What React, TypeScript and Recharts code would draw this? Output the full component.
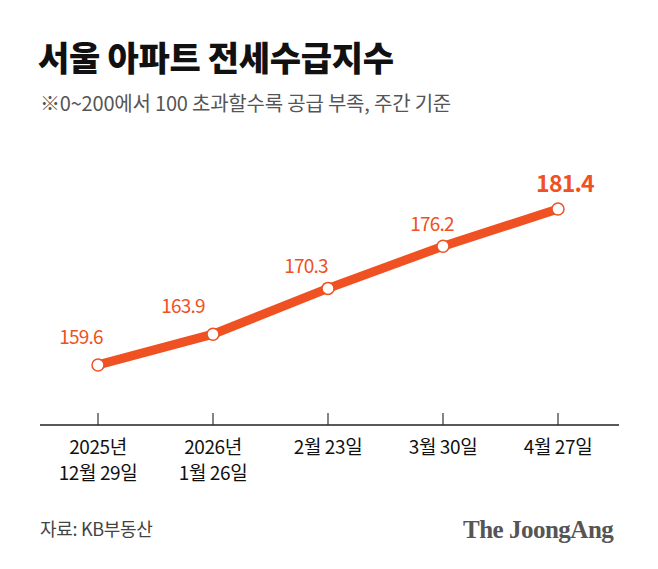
import React from "react";
import { LineChart, Line, XAxis, YAxis, LabelList } from "recharts";

// weekly jeonse supply-demand index, Seoul apartments (KB)
const dates = ["2025년\n12월 29일", "2026년\n1월 26일", "2월 23일", "3월 30일", "4월 27일"];
const jeonseIndex = [159.6, 163.9, 170.3, 176.2, 181.4];

const data = dates.map((date, i) => ({ date, value: jeonseIndex[i] }));

const ORANGE = "#EF5123";
const FONT = "'Noto Sans CJK KR', 'Noto Sans', sans-serif";

// label nudges relative to each point
const labelShift = [
  [-17, -28],
  [-30, -28],
  [-22, -22],
  [-11, -22],
  [7, -24],
];

const DateTick = (props: any) => {
  const { x, y, payload } = props;
  const lines = String(payload.value).split("\n");
  return (
    <g>
      <line x1={x} x2={x} y1={y - 12} y2={y} stroke="#333" strokeWidth={1.2} />
      {lines.map((l, i) => (
        <text
          key={i}
          x={x}
          y={y + 29 + i * 26}
          textAnchor="middle"
          fontSize={19}
          fill="#111"
          letterSpacing={-0.4}
        >
          {l}
        </text>
      ))}
    </g>
  );
};

const ValueLabel = (props: any) => {
  const { x, y, value, index } = props;
  const last = index === jeonseIndex.length - 1;
  const [dx, dy] = labelShift[index] || [0, -24];
  return (
    <text
      x={x + dx}
      y={y + dy + 7}
      textAnchor="middle"
      fontSize={last ? 23 : 19}
      fontWeight={last ? 700 : 400}
      fill={ORANGE}
      letterSpacing={-0.8}
    >
      {value}
    </text>
  );
};

export default function App() {
  return (
    <div
      style={{
        position: "absolute",
        top: 0,
        left: 0,
        width: 658,
        height: 569,
        background: "#fff",
        fontFamily: FONT,
      }}
    >
      <div
        style={{
          position: "absolute",
          left: 38,
          top: 34,
          fontSize: 34,
          fontWeight: 900,
          color: "#111",
          letterSpacing: -0.3,
          lineHeight: "46px",
          whiteSpace: "nowrap",
        }}
      >
        서울 아파트 전세수급지수
      </div>
      <div
        style={{
          position: "absolute",
          left: 40,
          top: 89,
          fontSize: 20,
          color: "#555",
          letterSpacing: -0.2,
          lineHeight: "28px",
          whiteSpace: "nowrap",
        }}
      >
        ※0~200에서 100 초과할수록 공급 부족, 주간 기준
      </div>

      <LineChart
        width={658}
        height={569}
        data={data}
        margin={{ top: 150, right: 39, bottom: 114, left: 40 }}
      >
        <YAxis hide domain={[151.2, 189.65]} />
        <XAxis
          dataKey="date"
          height={30}
          tickSize={0}
          tickMargin={0}
          tickLine={false}
          interval={0}
          padding={{ left: 58, right: 61 }}
          axisLine={{ stroke: "#222", strokeWidth: 1.5 }}
          tick={<DateTick />}
        />
        <Line
          type="linear"
          dataKey="value"
          stroke={ORANGE}
          strokeWidth={9}
          dot={{ r: 6, fill: "#fff", stroke: ORANGE, strokeWidth: 1.5 }}
          activeDot={false}
          isAnimationActive={false}
        >
          <LabelList dataKey="value" content={<ValueLabel />} />
        </Line>
      </LineChart>

      <div
        style={{
          position: "absolute",
          left: 40,
          top: 515,
          fontSize: 18,
          color: "#444",
          letterSpacing: -0.3,
          lineHeight: "26px",
          whiteSpace: "nowrap",
        }}
      >
        자료: KB부동산
      </div>
      <div
        style={{
          position: "absolute",
          left: 463,
          top: 513,
          fontSize: 25,
          fontWeight: 700,
          color: "#555",
          fontFamily: "'Liberation Serif', 'DejaVu Serif', serif",
          letterSpacing: -0.5,
          lineHeight: "34px",
          whiteSpace: "nowrap",
        }}
      >
        The JoongAng
      </div>
    </div>
  );
}
